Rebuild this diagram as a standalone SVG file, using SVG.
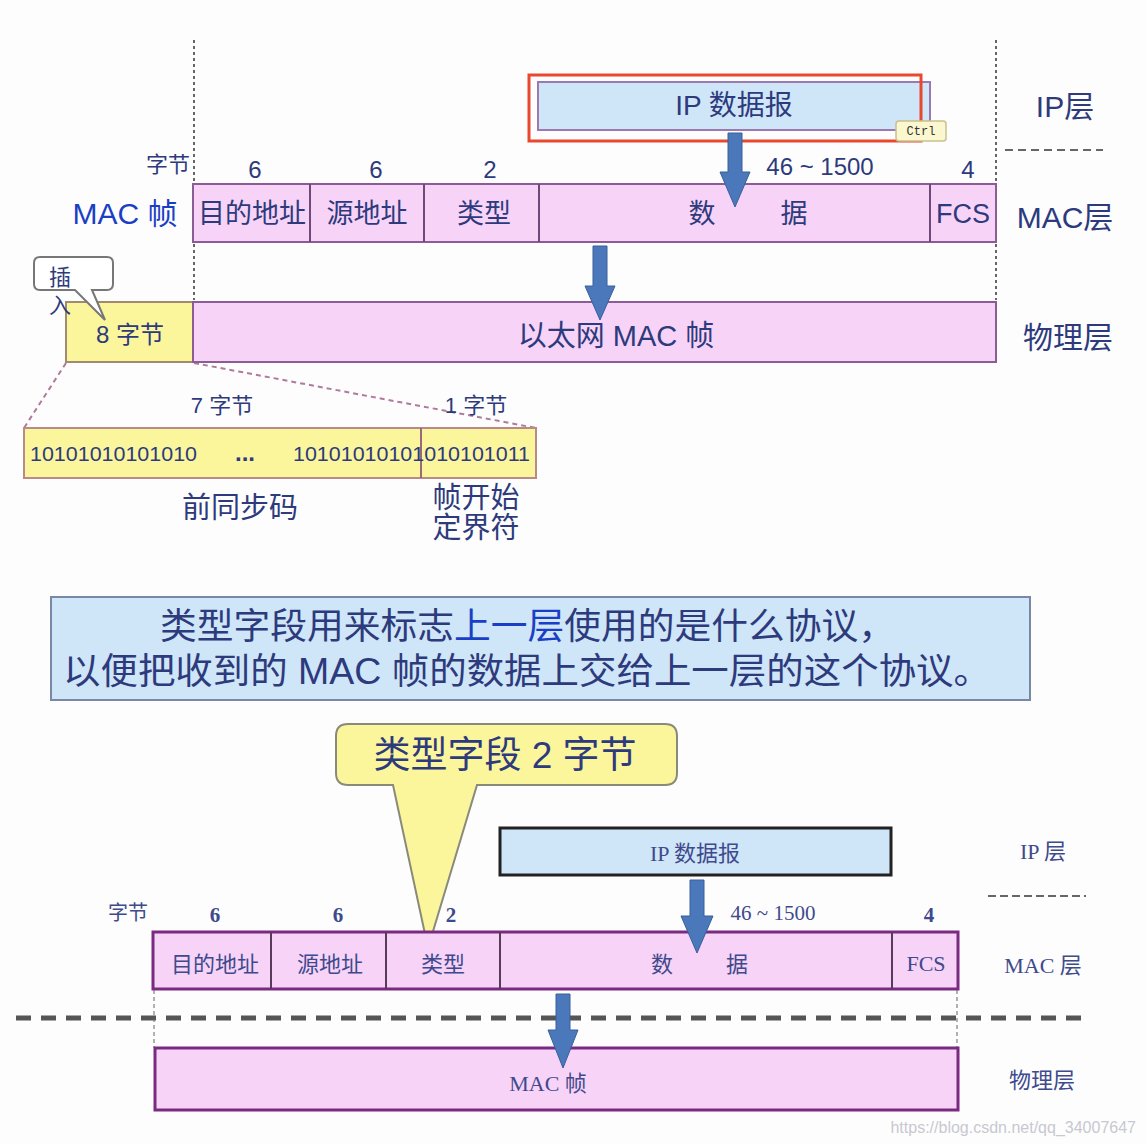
<svg xmlns="http://www.w3.org/2000/svg" width="1146" height="1144" viewBox="0 0 1146 1144">
<style>
.s{font-family:"Liberation Sans","Noto Sans CJK SC",sans-serif;fill:#2d3a7c}
.r{font-family:"Liberation Serif","Noto Sans CJK SC",serif;fill:#3f4a8c}
.pink{fill:#f7d3f8;stroke:#8c5c94;stroke-width:2}
.pink2{fill:#f7d3f8;stroke:#7a2a80;stroke-width:3}
.yel{fill:#fbf59c;stroke:#a08a70;stroke-width:2}
.blu{fill:#cfe5f8}
.dot{stroke:#666;stroke-width:2;stroke-dasharray:3 3;fill:none}
.arr{fill:#4a78bb;stroke:#3a5f9a;stroke-width:1}
</style>
<rect width="1146" height="1144" fill="#fdfdfe"/>

<g id="guides">
<line class="dot" x1="194" y1="40" x2="194" y2="300"/>
<line class="dot" x1="996" y1="40" x2="996" y2="300"/>
<line x1="1005" y1="150" x2="1103" y2="150" stroke="#666" stroke-width="2" stroke-dasharray="8 5"/>
<line x1="66" y1="363" x2="24" y2="428" stroke="#b07a9a" stroke-width="2" stroke-dasharray="5 4"/>
<line x1="194" y1="363" x2="536" y2="428" stroke="#b07a9a" stroke-width="2" stroke-dasharray="5 4"/>
</g>

<g id="ip-top">
<rect x="538" y="82" width="392" height="48" class="blu" stroke="#9a7ab0" stroke-width="2"/>
<rect x="529" y="75" width="392" height="66" fill="none" stroke="#e8482e" stroke-width="3"/>
<text class="s" x="734" y="115" font-size="28" text-anchor="middle">IP 数据报</text>
<rect x="896" y="121" width="50" height="20" rx="3" fill="#fbf8d0" stroke="#c8c090" stroke-width="1.5"/>
<text x="921" y="135" font-family="Liberation Mono,monospace" font-size="12" fill="#333" text-anchor="middle">Ctrl</text>
</g>

<g id="labels-top">
<text class="s" x="1065" y="117" font-size="30" text-anchor="middle">IP层</text>
<text class="s" x="1065" y="228" font-size="30" text-anchor="middle">MAC层</text>
<text class="s" x="1068" y="348" font-size="30" text-anchor="middle">物理层</text>
<text class="s" x="190" y="172" font-size="22" text-anchor="end">字节</text>
<text class="s" x="255" y="178" font-size="24" text-anchor="middle">6</text>
<text class="s" x="376" y="178" font-size="24" text-anchor="middle">6</text>
<text class="s" x="490" y="178" font-size="24" text-anchor="middle">2</text>
<text class="s" x="820" y="175" font-size="24" text-anchor="middle">46 ~ 1500</text>
<text class="s" x="968" y="178" font-size="24" text-anchor="middle">4</text>
<text x="125" y="224" font-size="30" text-anchor="middle" font-family="Liberation Sans,Noto Sans CJK SC,sans-serif" fill="#1b3fc4">MAC 帧</text>
</g>

<g id="mac-top">
<rect class="pink" x="193" y="184" width="803" height="58"/>
<line x1="310" y1="184" x2="310" y2="242" stroke="#6e4a78" stroke-width="2"/>
<line x1="424" y1="184" x2="424" y2="242" stroke="#6e4a78" stroke-width="2"/>
<line x1="539" y1="184" x2="539" y2="242" stroke="#6e4a78" stroke-width="2"/>
<line x1="930" y1="184" x2="930" y2="242" stroke="#6e4a78" stroke-width="2"/>
<text class="s" x="252" y="223" font-size="27" text-anchor="middle">目的地址</text>
<text class="s" x="367" y="223" font-size="27" text-anchor="middle">源地址</text>
<text class="s" x="484" y="223" font-size="27" text-anchor="middle">类型</text>
<text class="s" x="702" y="223" font-size="27" text-anchor="middle">数</text>
<text class="s" x="794" y="223" font-size="27" text-anchor="middle">据</text>
<text class="s" x="963" y="223" font-size="27" text-anchor="middle">FCS</text>
</g>

<g id="phys-top">
<rect class="yel" x="66" y="302" width="127" height="60"/>
<rect class="pink" x="193" y="302" width="803" height="60" stroke="#9a8ab8"/>
<text class="s" x="130" y="343" font-size="24" text-anchor="middle">8 字节</text>
<text class="s" x="616" y="346" font-size="29" text-anchor="middle">以太网 MAC 帧</text>
</g>

<g id="callout-insert">
<path d="M40,257 H107 Q113,257 113,263 V284 Q113,290 107,290 H92 L105,320 L75,290 H40 Q34,290 34,284 V263 Q34,257 40,257 Z" fill="#fff" stroke="#777" stroke-width="2"/>
<text class="s" x="60" y="285" font-size="22" text-anchor="middle">插</text>
<text class="s" x="60" y="313" font-size="22" text-anchor="middle">入</text>
</g>

<g id="preamble">
<rect x="24" y="428" width="512" height="50" fill="#fbf59c" stroke="#b88a8a" stroke-width="2"/>
<line x1="421" y1="428" x2="421" y2="478" stroke="#9a6a7a" stroke-width="2"/>
<text class="s" x="30" y="461" font-size="21" textLength="167" lengthAdjust="spacingAndGlyphs">10101010101010</text>
<text class="s" x="245" y="461" font-size="24" font-weight="bold" text-anchor="middle">...</text>
<text class="s" x="293" y="461" font-size="21" textLength="237" lengthAdjust="spacingAndGlyphs">10101010101010101011</text>
<text class="s" x="222" y="413" font-size="22" text-anchor="middle">7 字节</text>
<text class="s" x="476" y="413" font-size="22" text-anchor="middle">1 字节</text>
<text class="s" x="240" y="518" font-size="29" text-anchor="middle">前同步码</text>
<text class="s" x="476" y="508" font-size="29" text-anchor="middle">帧开始</text>
<text class="s" x="476" y="538" font-size="29" text-anchor="middle">定界符</text>
</g>

<g id="note">
<rect x="51" y="597" width="979" height="103" class="blu" stroke="#7a88a8" stroke-width="2"/>
<text class="s" x="160" y="639" font-size="36" textLength="735" lengthAdjust="spacingAndGlyphs">类型字段用来标志<tspan fill="#1b3fc4">上一层</tspan>使用的是什么协议，</text>
<text class="s" x="63" y="684" font-size="36" textLength="928" lengthAdjust="spacingAndGlyphs">以便把收到的 MAC 帧的数据上交给上一层的这个协议。</text>
</g>

<g id="callout-type">
<path d="M348,724 H665 Q677,724 677,736 V773 Q677,785 665,785 H477 L428,948 L393,785 H348 Q336,785 336,773 V736 Q336,724 348,724 Z" fill="#fbf59c" stroke="#8a8a7a" stroke-width="2"/>
<text class="s" x="505" y="768" font-size="37" text-anchor="middle">类型字段 2 字节</text>
</g>

<g id="ip-bottom">
<rect x="500" y="828" width="391" height="47" class="blu" stroke="#222" stroke-width="3"/>
<text class="r" x="695" y="861" font-size="22" text-anchor="middle">IP 数据报</text>
</g>

<g id="labels-bottom">
<text class="r" x="1043" y="859" font-size="22" text-anchor="middle">IP 层</text>
<line x1="988" y1="896" x2="1086" y2="896" stroke="#666" stroke-width="2" stroke-dasharray="8 4"/>
<text class="r" x="1043" y="973" font-size="22" text-anchor="middle">MAC 层</text>
<text class="r" x="1042" y="1088" font-size="22" text-anchor="middle">物理层</text>
<text class="r" x="128" y="920" font-size="20" text-anchor="middle">字节</text>
<text class="r" x="215" y="922" font-size="21" font-weight="bold" text-anchor="middle">6</text>
<text class="r" x="338" y="922" font-size="21" font-weight="bold" text-anchor="middle">6</text>
<text class="r" x="451" y="922" font-size="21" font-weight="bold" text-anchor="middle">2</text>
<text class="r" x="773" y="920" font-size="21" text-anchor="middle">46 ~ 1500</text>
<text class="r" x="929" y="922" font-size="21" font-weight="bold" text-anchor="middle">4</text>
</g>

<g id="mac-bottom">
<rect class="pink2" x="153" y="932" width="805" height="57"/>
<line x1="271" y1="932" x2="271" y2="989" stroke="#5a3a5a" stroke-width="2"/>
<line x1="386" y1="932" x2="386" y2="989" stroke="#5a3a5a" stroke-width="2"/>
<line x1="500" y1="932" x2="500" y2="989" stroke="#5a3a5a" stroke-width="2"/>
<line x1="892" y1="932" x2="892" y2="989" stroke="#5a3a5a" stroke-width="2"/>
<text class="r" x="215" y="972" font-size="22" text-anchor="middle">目的地址</text>
<text class="r" x="330" y="972" font-size="22" text-anchor="middle">源地址</text>
<text class="r" x="443" y="972" font-size="22" text-anchor="middle">类型</text>
<text class="r" x="662" y="972" font-size="22" text-anchor="middle">数</text>
<text class="r" x="737" y="972" font-size="22" text-anchor="middle">据</text>
<text class="r" x="926" y="971" font-size="22" text-anchor="middle">FCS</text>
</g>

<g id="divider">
<line x1="16" y1="1018" x2="1083" y2="1018" stroke="#555" stroke-width="5" stroke-dasharray="15 10"/>
<line x1="154" y1="990" x2="154" y2="1048" stroke="#666" stroke-width="1" stroke-dasharray="4 3"/>
<line x1="957" y1="990" x2="957" y2="1048" stroke="#666" stroke-width="1" stroke-dasharray="4 3"/>
</g>

<g id="phys-bottom">
<rect class="pink2" x="155" y="1048" width="803" height="62"/>
<text class="r" x="548" y="1091" font-size="22" text-anchor="middle">MAC 帧</text>
</g>

<g id="connectors">
<path class="arr" d="M728,133 H742 V172 H750 L735,207 L720,172 H728 Z"/>
<path class="arr" d="M593,246 H607 V286 H615 L600,320 L585,286 H593 Z"/>
<path class="arr" d="M690,880 H704 V916 H713 L697,953 L681,916 H690 Z"/>
<path class="arr" d="M556,994 H570 V1030 H578 L563,1068 L548,1030 H556 Z"/>
</g>

<text x="1136" y="1133" font-family="Liberation Sans,sans-serif" font-size="16" fill="#c8c8d0" text-anchor="end">https://blog.csdn.net/qq_34007647</text>
</svg>
